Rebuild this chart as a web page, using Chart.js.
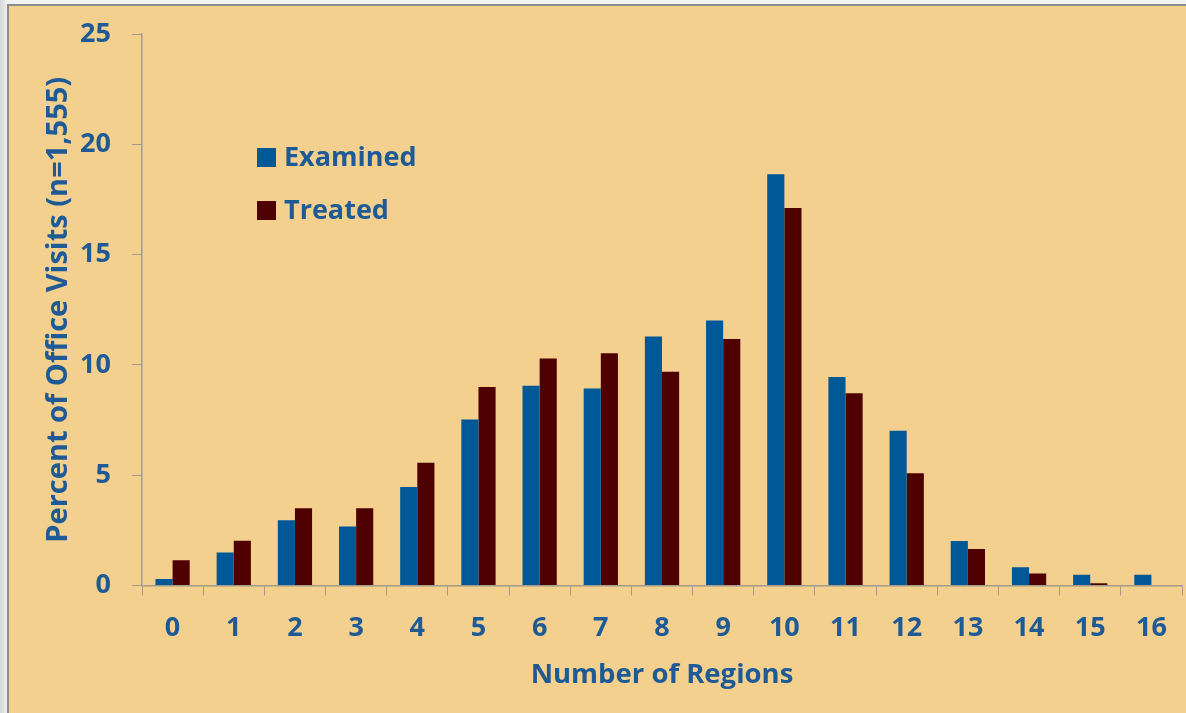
<!DOCTYPE html>
<html>
<head>
<meta charset="utf-8">
<script src="https://cdn.jsdelivr.net/npm/chart.js@4.4.1/dist/chart.umd.min.js"></script>
<style>
  html, body { margin: 0; padding: 0; width: 1186px; height: 713px; overflow: hidden; }
  body { background: linear-gradient(to right, #d6d6d6, #f2f2f2 8px); }
  #frame {
    position: absolute; left: 7px; top: 4px; width: 1200px; height: 720px;
    background: #F3D08E; border-left: 2px solid #8c8c8c; border-top: 2px solid #8c8c8c;
  }
  #wrap { position: absolute; left: 0; top: 0; width: 1186px; height: 713px; }
</style>
</head>
<body>
<div id="frame"></div>
<div id="wrap"><canvas id="barChart"></canvas></div>
<script>
var regions = ['0', '1', '2', '3', '4', '5', '6', '7', '8', '9', '10', '11', '12', '13', '14', '15', '16'];
var examined = [0.3, 1.5, 2.96, 2.67, 4.47, 7.52, 9.05, 8.93, 11.29, 12.01, 18.64, 9.45, 7.02, 2.02, 0.83, 0.49, 0.49];
var treated = [1.14, 2.03, 3.5, 3.5, 5.56, 9.0, 10.29, 10.53, 9.69, 11.17, 17.11, 8.72, 5.09, 1.66, 0.54, 0.1, 0.02];
var yTicks = [0, 5, 10, 15, 20, 25];

var textBlue = '#1d5a96';
var axisGray = '#a39a8a';
var fontFam = "'Open Sans', sans-serif";

// legend drawn inside the plot, top-left
var insideLegend = {
    id: 'insideLegend',
    afterDraw: function (chart) {
        var c = chart.ctx;
        c.save();
        c.font = 'bold 27px ' + fontFam;
        c.textBaseline = 'middle';
        c.textAlign = 'left';
        chart.data.datasets.forEach(function (ds, i) {
            var y = 157 + i * 53;
            c.fillStyle = ds.backgroundColor;
            c.fillRect(257, y - 9, 19, 19);
            c.fillStyle = textBlue;
            c.fillText(ds.label, 284, y + 1);
        });
        c.restore();
    }
};

var ctx = document.getElementById('barChart').getContext('2d');
var myChart = new Chart(ctx, {
    type: 'bar',
    data: {
        labels: regions,
        datasets: [
            {
                label: 'Examined',
                data: examined,
                backgroundColor: '#005896',
                barPercentage: 1,
                categoryPercentage: 0.56
            },
            {
                label: 'Treated',
                data: treated,
                backgroundColor: '#4f0000',
                barPercentage: 1,
                categoryPercentage: 0.56
            }
        ]
    },
    options: {
        responsive: true,
        maintainAspectRatio: false,
        animation: false,
        layout: {
            padding: { left: 41, top: 34, right: 4, bottom: 21 }
        },
        plugins: {
            legend: { display: false },
            title: { display: false },
            tooltip: { enabled: false }
        },
        scales: {
            x: {
                grid: { drawOnChartArea: false, tickLength: 10, color: axisGray, offset: true },
                border: { color: axisGray, width: 1.5 },
                ticks: { color: textBlue, padding: 17, font: { family: fontFam, size: 27, weight: 'bold' } },
                title: {
                    display: true, text: 'Number of Regions', color: textBlue,
                    padding: 0, font: { family: fontFam, size: 27.5, weight: 'bold' }
                },
                afterFit: function (scale) { scale.height = 106.5; }
            },
            y: {
                min: 0,
                max: 25,
                grid: { drawOnChartArea: false, tickLength: 10, color: axisGray },
                border: { color: axisGray, width: 1.5 },
                afterBuildTicks: function (scale) {
                    scale.ticks = yTicks.map(function (v) { return { value: v }; });
                },
                ticks: { color: textBlue, padding: 21, font: { family: fontFam, size: 27, weight: 'bold' } },
                title: {
                    display: true, text: 'Percent of Office Visits (n=1,555)', color: textBlue,
                    padding: 0, font: { family: fontFam, size: 29, weight: 'bold' }
                },
                afterFit: function (scale) {
                    scale.width = 101;
                    scale.paddingTop = 0;
                }
            }
        }
    },
    plugins: [insideLegend]
});
</script>
</body>
</html>
